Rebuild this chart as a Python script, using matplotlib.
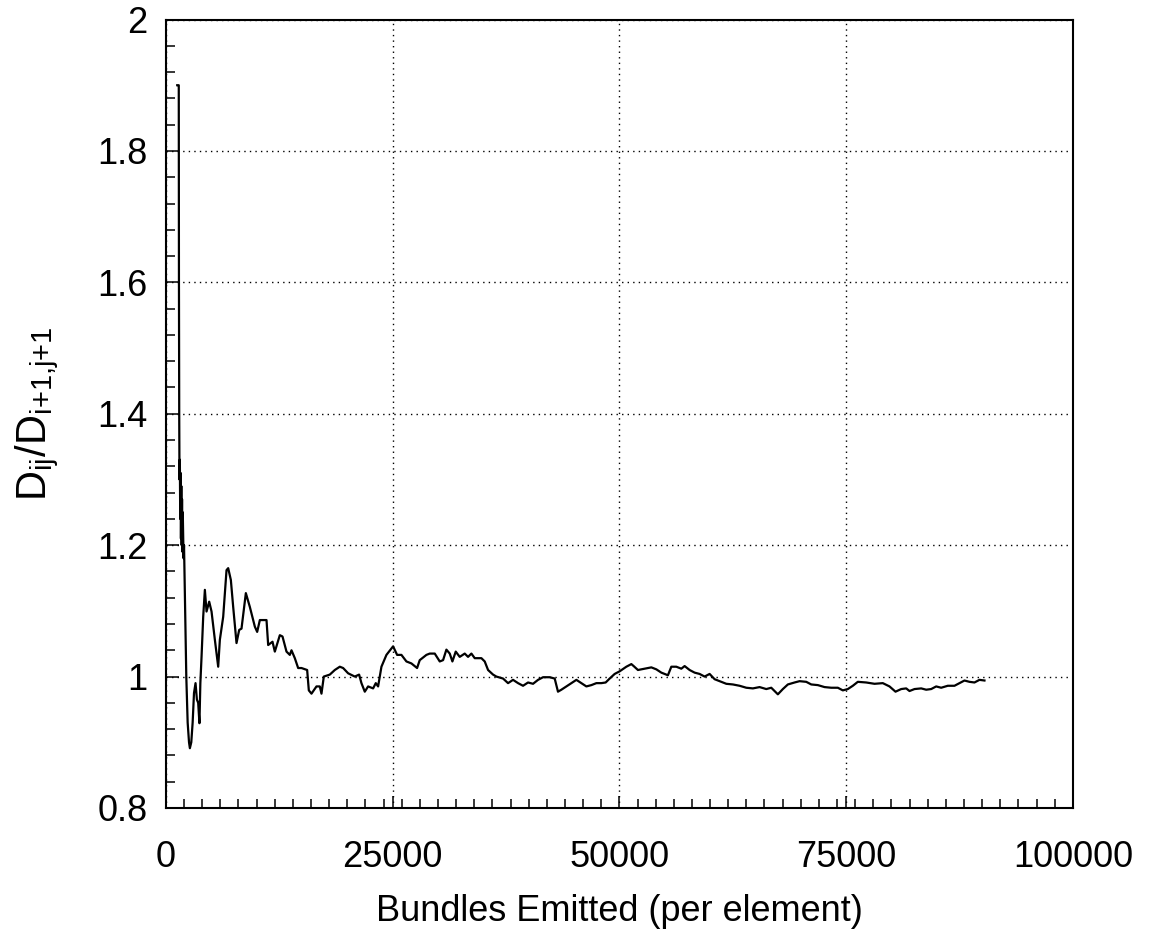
"""
plot.py
Ratio D_ij / D_{i+1,j+1} vs number of bundles emitted per element.
"""
import matplotlib
matplotlib.use("Agg")
import matplotlib.pyplot as plt
from matplotlib.ticker import MultipleLocator, FormatStrFormatter

# bundles emitted (per element)
bundles = [
    1250, 1420, 1440, 1470, 1500, 1540, 1580, 1620, 1660, 1700, 1740, 1780,
    1820, 1860, 1900, 1950, 2000, 2100, 2250, 2400, 2550, 2645, 2800, 2950,
    3100, 3269, 3420, 3560, 3700, 3800, 3931, 4114, 4298, 4482, 4775, 5033,
    5400, 5767, 5951, 6318, 6686, 6869, 7163, 7420, 7787, 8081, 8338, 8816,
    9257, 9808, 10065, 10359, 11094, 11277, 11755, 12012, 12563, 12857, 13298,
    13665, 13849, 14216, 14583, 14951, 15575, 15759, 16053, 16604, 16971,
    17155, 17412, 18073, 18624, 19175, 19542, 20093, 20828, 21305, 21562,
    21930, 22297, 22848, 23142, 23399, 23766, 24317, 25052, 25493, 25970,
    26521, 27072, 27696, 27990, 28725, 29093, 29644, 30195, 30562, 30929,
    31297, 31590, 31958, 32399, 32950, 33317, 33685, 34052, 34787, 35154,
    35522, 36073, 36440, 37175, 37726, 38277, 38828, 39379, 39930, 40481,
    41032, 41583, 42318, 42869, 43231, 43606, 44157, 44708, 45259, 45810,
    46361, 46912, 47463, 48014, 48488, 48929, 49480, 50031, 50769, 51320,
    51574, 52047, 52786, 53524, 54075, 54626, 55353, 55728, 56279, 56830,
    57194, 57745, 58296, 58847, 59398, 59949, 60500, 61051, 61789, 62516,
    63255, 63993, 64720, 65459, 66197, 66748, 67475, 68026, 68577, 69316,
    69867, 70605, 71156, 71883, 72622, 73360, 74087, 74638, 75189, 75740,
    76291, 77217, 78132, 79046, 79785, 80446, 81074, 81625, 81989, 82540,
    83278, 83829, 84380, 84931, 85482, 86209, 86948, 87499, 88050, 88601,
    89152, 89703, 90254,
]

ratio = [
    1.900, 1.900, 1.600, 1.400, 1.300, 1.330, 1.240, 1.310, 1.210, 1.290, 1.200, 1.270,
    1.190, 1.250, 1.220, 1.180, 1.200, 1.120, 1.000, 0.930, 0.900, 0.891, 0.900, 0.930,
    0.975, 0.990, 0.965, 0.960, 0.929, 0.990, 1.030, 1.091, 1.132, 1.099, 1.114, 1.099,
    1.056, 1.015, 1.056, 1.091, 1.162, 1.165, 1.147, 1.106, 1.051, 1.071, 1.073, 1.127,
    1.106, 1.076, 1.068, 1.086, 1.086, 1.048, 1.053, 1.038, 1.063, 1.061, 1.038,
    1.033, 1.040, 1.028, 1.013, 1.013, 1.010, 0.979, 0.974, 0.985, 0.985,
    0.974, 1.000, 1.003, 1.010, 1.015, 1.013, 1.005, 1.000, 1.003, 0.990,
    0.977, 0.985, 0.982, 0.990, 0.985, 1.015, 1.033, 1.046, 1.033, 1.033,
    1.023, 1.020, 1.013, 1.025, 1.033, 1.035, 1.035, 1.023, 1.025, 1.041,
    1.035, 1.023, 1.038, 1.030, 1.035, 1.030, 1.035, 1.028, 1.028, 1.023,
    1.010, 1.003, 1.000, 0.997, 0.990, 0.995, 0.990, 0.986, 0.991, 0.989,
    0.995, 0.999, 0.999, 0.997, 0.977, 0.980, 0.985, 0.990, 0.995, 0.990,
    0.985, 0.987, 0.990, 0.990, 0.991, 0.997, 1.004, 1.008, 1.015, 1.019,
    1.016, 1.010, 1.012, 1.014, 1.011, 1.006, 1.002, 1.015, 1.015, 1.012,
    1.016, 1.010, 1.006, 1.004, 1.000, 1.004, 0.996, 0.993, 0.989, 0.988,
    0.986, 0.983, 0.982, 0.984, 0.981, 0.983, 0.973, 0.981, 0.988, 0.991,
    0.993, 0.992, 0.988, 0.987, 0.984, 0.983, 0.983, 0.979, 0.981, 0.986,
    0.992, 0.991, 0.989, 0.990, 0.985, 0.977, 0.981, 0.982, 0.978, 0.981,
    0.982, 0.980, 0.981, 0.985, 0.983, 0.986, 0.986, 0.990, 0.994, 0.992,
    0.991, 0.995, 0.994,
]

x_ticks = [0, 25000, 50000, 75000, 100000]
y_ticks = [0.8, 1.0, 1.2, 1.4, 1.6, 1.8, 2.0]


def plot_ratio():
    plt.rcParams["font.family"] = ["Liberation Sans", "DejaVu Sans"]
    plt.rcParams["mathtext.default"] = "regular"

    fig = plt.figure(figsize=(11.52, 9.48), dpi=100)
    ax = fig.add_axes([0.144, 0.1477, 0.7873, 0.8317])

    ax.plot(bundles, ratio, color="black", linewidth=1.6)

    ax.set_xlim(0, 100000)
    ax.set_ylim(0.8, 2.0)
    ax.set_xticks(x_ticks)
    ax.set_yticks(y_ticks)
    ax.xaxis.set_major_formatter(FormatStrFormatter("%g"))
    ax.yaxis.set_major_formatter(FormatStrFormatter("%g"))
    ax.xaxis.set_minor_locator(MultipleLocator(2000))
    ax.yaxis.set_minor_locator(MultipleLocator(0.04))

    ax.tick_params(which="both", direction="in", top=False, right=False,
                   width=1.1, labelsize=26)
    ax.tick_params(which="major", length=9)
    ax.tick_params(which="minor", length=6.5)
    ax.tick_params(axis="x", which="major", pad=23)
    ax.tick_params(axis="y", which="major", pad=13)

    ax.grid(True, which="major", color="black", linestyle=(0, (1, 3)),
            linewidth=1.0)
    for sp in ax.spines.values():
        sp.set_linewidth(1.5)

    ax.set_xlabel("Bundles Emitted (per element)", fontsize=26, labelpad=14)
    # no operator spacing inside the subscripts, like the original
    ax.set_ylabel(r"$D_{ij}/D_{i{+}1{,}j{+}1}$", fontsize=30, labelpad=26)

    plt.savefig("out.png", dpi=100)
    plt.close()


if __name__ == "__main__":
    plot_ratio()
